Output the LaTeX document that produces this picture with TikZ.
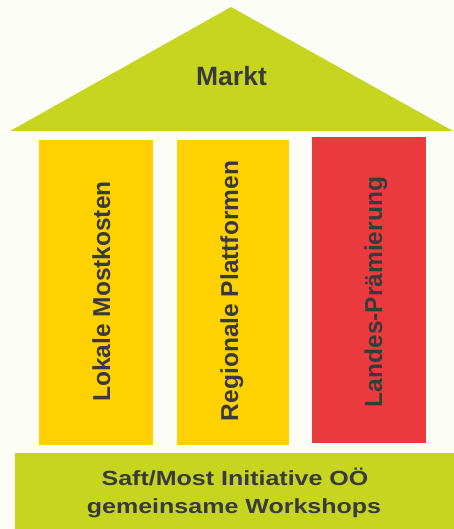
\documentclass[tikz,border=0pt]{standalone}
\usepackage{fontspec}
\setmainfont{Liberation Sans}
\definecolor{lime}{RGB}{198,214,32}
\definecolor{gold}{RGB}{255,209,0}
\definecolor{redp}{RGB}{234,58,62}
\definecolor{ink}{RGB}{58,58,58}
\definecolor{paper}{RGB}{253,253,248}
\tikzset{
  pillar/.style={minimum width=113pt, minimum height=305pt, inner sep=0pt, anchor=north west},
  pillartext/.style={rotate=90, anchor=base, inner sep=0pt, text=ink, font=\fontsize{24.5}{28}\selectfont\bfseries},
  basetext/.style={anchor=base, inner sep=0pt, xscale=1.22, text=ink, font=\fontsize{20.5}{24}\selectfont\bfseries},
}
\begin{document}
\begin{tikzpicture}[x=1pt,y=-1pt]
\fill[paper] (0,0) rectangle (454,529);
\useasboundingbox (0,0) rectangle (454,529);
% roof
\fill[lime] (231,7) -- (453,131) -- (10,131) -- cycle;
\node[anchor=base, inner sep=0pt, text=ink, font=\fontsize{26.5}{30}\selectfont\bfseries] (markt) at (231.5,86) {Markt};
% pillars
\node[pillar, fill=gold, minimum width=114pt] (p1) at (39,140) {};
\node[pillar, fill=gold, minimum width=112pt] (p2) at (177,140) {};
\node[pillar, fill=redp, minimum width=114pt, minimum height=306pt] (p3) at (312,137) {};
\node[pillartext] (t1) at (110,291.5) {Lokale Mostkosten};
\node[pillartext] (t2) at (238,291) {Regionale Plattformen};
\node[pillartext] (t3) at (382,292) {Landes-Prämierung};
% base
\fill[lime] (15,453) rectangle (454,529);
\node[basetext] (b1) at (235,485) {Saft/Most Initiative OÖ};
\node[basetext] (b2) at (234,513) {gemeinsame Workshops};
\end{tikzpicture}
\end{document}
